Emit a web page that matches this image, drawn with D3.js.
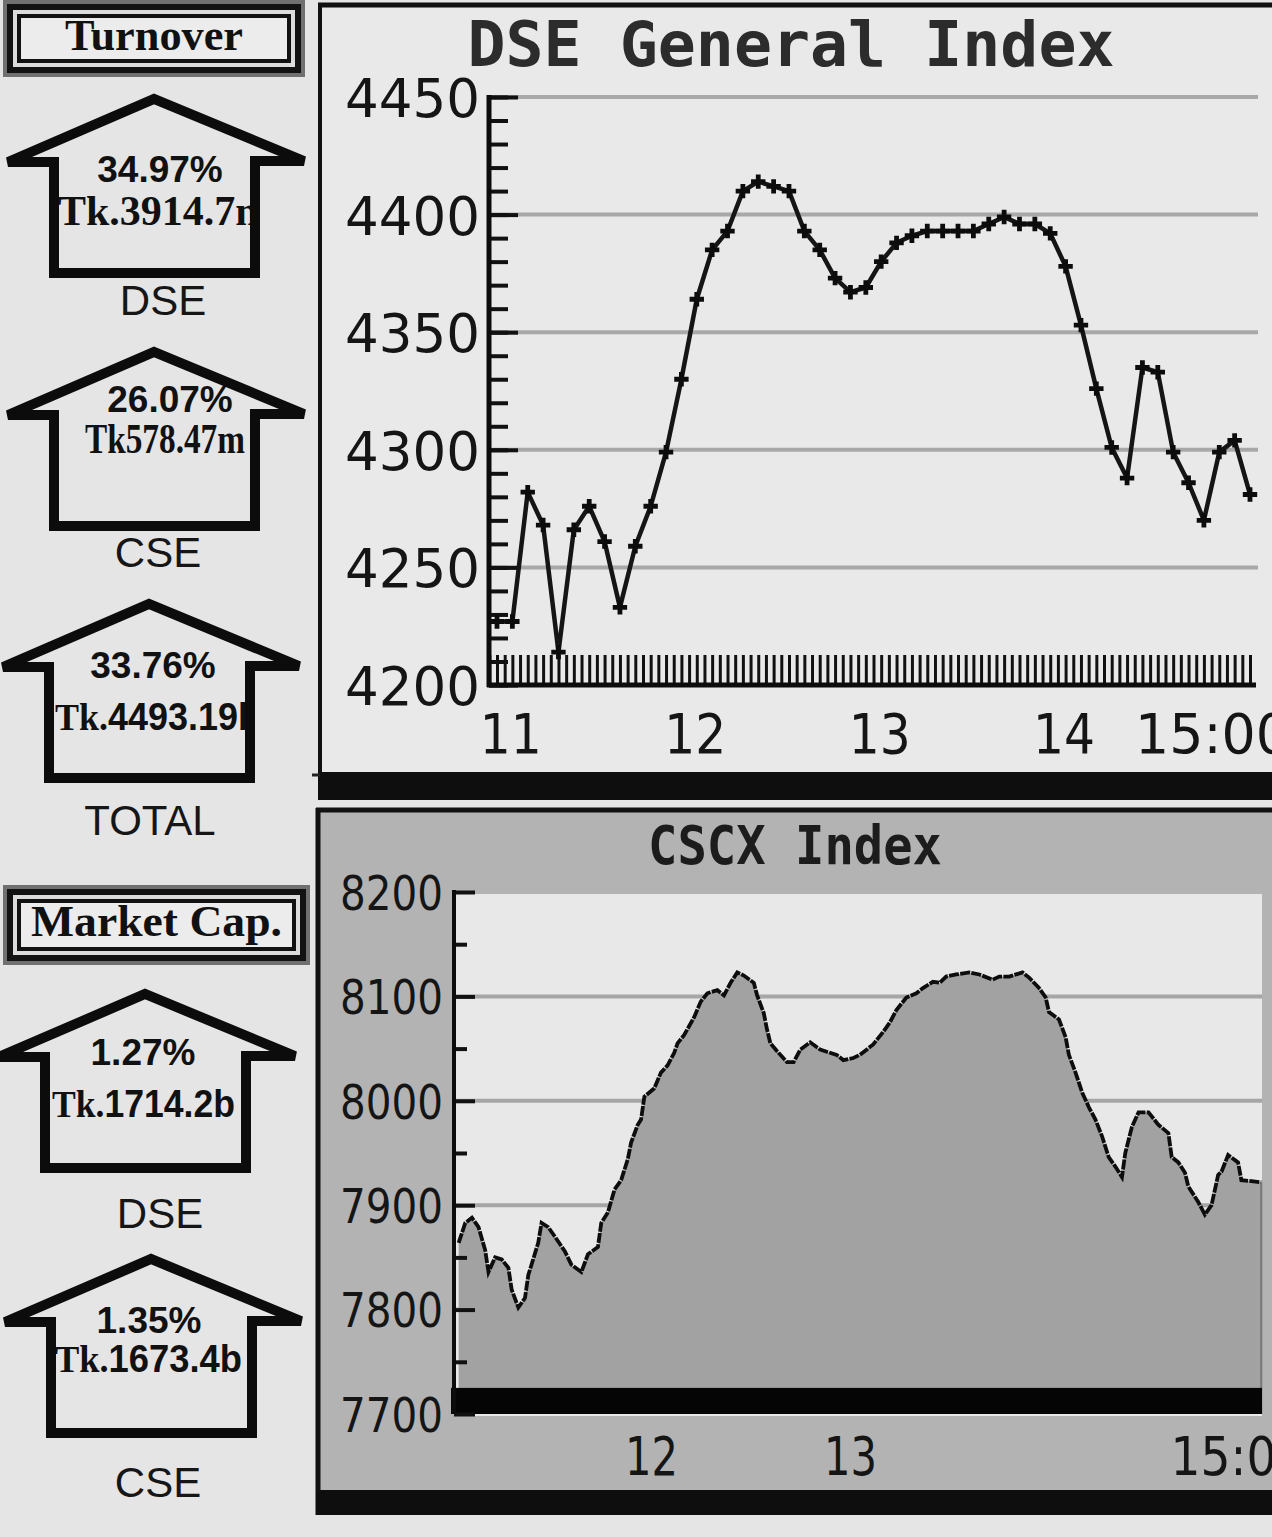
<!DOCTYPE html>
<html><head><meta charset="utf-8">
<script src="https://cdn.jsdelivr.net/npm/d3@7"></script>
<style>html,body{margin:0;padding:0;background:#e5e5e5;overflow:hidden} svg{display:block}</style>
</head><body>
<svg id="c" width="1272" height="1537"></svg>
<script>
// ---------------- DATA ----------------
const dseTimes = ["10:55","11:00","11:05","11:10","11:15","11:20","11:25","11:30","11:35","11:40","11:45","11:50","11:55",
  "12:00","12:05","12:10","12:15","12:20","12:25","12:30","12:35","12:40","12:45","12:50","12:55",
  "13:00","13:05","13:10","13:15","13:20","13:25","13:30","13:35","13:40","13:45","13:50","13:55",
  "14:00","14:05","14:10","14:15","14:20","14:25","14:30","14:35","14:40","14:45","14:50","14:55","15:00"];
const dseValues = [4227,4227,4282,4268,4214,4266,4276,4261,4233,4259,
  4276,4299,4330,4364,4385,4393,4410,4414,4412,4410,
  4393,4385,4373,4367,4369,4380,4388,4391,4393,4393,
  4393,4393,4396,4399,4396,4396,4392,4378,4353,4326,
  4301,4288,4335,4333,4299,4286,4270,4299,4304,4281];
const dseYTicks = [4200,4250,4300,4350,4400,4450];
const dseGrid = [4250,4300,4350,4400,4450];
const dseXTicks = ["11:00","12:00","13:00","14:00","15:00"];
const dseXLabels = ["11","12","13","14","15:00"];

const cscxTimes = ["11:02","11:04","11:06","11:08","11:10","11:11","11:13","11:15","11:17","11:18","11:20","11:22","11:23","11:26","11:27","11:29","11:31","11:34","11:36","11:39","11:41","11:44","11:45","11:47","11:49","11:51","11:53","11:54","11:56","11:57","11:58",
  "12:01","12:03","12:05","12:07","12:08","12:10","12:13","12:15","12:17","12:20","12:22","12:24","12:26","12:28","12:31","12:32","12:34","12:35","12:36","12:39","12:41","12:43","12:45","12:48","12:51","12:53","12:56","12:58",
  "13:01","13:03","13:05","13:07","13:10","13:12","13:14","13:17","13:20","13:22","13:25","13:27","13:29","13:32","13:36","13:39","13:43","13:45","13:48","13:52","13:54","13:57","13:59",
  "14:00","14:03","14:05","14:06","14:08","14:10","14:12","14:14","14:16","14:18","14:20","14:22","14:23","14:25","14:27","14:30","14:33","14:36","14:37","14:39","14:41","14:42","14:45","14:47","14:49","14:51","14:52","14:54","14:57","14:58",
  "15:04"];
const cscxValues = [7864,7883,7888,7879,7857,7836,7850,7848,7840,7819,7802,7811,7833,7864,7883,7879,7870,7856,7843,7836,7853,7860,7883,7893,7915,7924,7944,7960,7977,7982,8004,
  8012,8027,8034,8046,8055,8063,8080,8095,8103,8106,8101,8113,8123,8120,8113,8101,8084,8068,8055,8044,8037,8037,8049,8056,8049,8047,8044,8039,
  8041,8044,8049,8054,8066,8075,8087,8099,8103,8108,8114,8113,8119,8121,8123,8121,8116,8119,8119,8123,8118,8108,8099,
  8085,8078,8061,8044,8027,8008,7994,7982,7966,7946,7937,7927,7950,7975,7989,7989,7977,7969,7946,7941,7931,7918,7903,7891,7900,7929,7932,7948,7941,7924,
  7922];
const cscxYTicks = [7700,7800,7900,8000,8100,8200];
const cscxMinor = [7750,7850,7950,8050,8150];
const cscxGrid = [7800,7900,8000,8100];
const cscxXTicks = ["12:00","13:00","15:00"];
const cscxXLabels = ["12","13","15:00"];

const turnoverNames = ["DSE","CSE","TOTAL"];
const turnoverPct = ["34.97%","26.07%","33.76%"];
const turnoverAmt = ["Tk.3914.7m","Tk578.47m","Tk.4493.19b"];
const mcapNames = ["DSE","CSE"];
const mcapPct = ["1.27%","1.35%"];
const mcapAmt = ["Tk.1714.2b","Tk.1673.4b"];

// ---------------- DRAW ----------------
const svg = d3.select("#c");
const parse = d3.timeParse("%H:%M");
svg.append("rect").attr("width",1272).attr("height",1537).attr("fill","#e5e5e5");
const defs = svg.append("defs");

// ---- framed title boxes
function framedBox(x,y,w,h,label,baseline,fs,len){
  const g = svg.append("g");
  [[0,"#707070"],[4,"#121212"],[10,"#dcdcdc"],[14,"#121212"],[18,"#ececec"]].forEach(([i,c])=>{
    g.append("rect").attr("x",x+i).attr("y",y+i).attr("width",w-2*i).attr("height",h-2*i).attr("fill",c);
  });
  g.append("text").attr("x",x+w/2).attr("y",baseline).attr("text-anchor","middle")
    .attr("font-family","Liberation Serif").attr("font-weight","bold").attr("font-size",fs)
    .attr("textLength",len).attr("lengthAdjust","spacingAndGlyphs").attr("fill","#111").text(label);
}
framedBox(3,0,302,77,"Turnover",50,45,178);
framedBox(3,885,307,80,"Market Cap.",936,44,251);

// ---- arrows
const arrows = [
  {cx:154, top:93,  pct:turnoverPct[0], amt:turnoverAmt[0], name:turnoverNames[0], px:160, pb:182, ax:58, ab:225, al:null, mixed:false, nx:163, nb:315},
  {cx:154, top:346, pct:turnoverPct[1], amt:turnoverAmt[1], name:turnoverNames[1], px:170, pb:412, ax:85, ab:453, al:160, mixed:false, nx:158, nb:567},
  {cx:149, top:598, pct:turnoverPct[2], amt:turnoverAmt[2], name:turnoverNames[2], px:153, pb:678, ax:55, ab:730, al:205, mixed:true, nx:150, nb:835},
  {cx:145, top:988, pct:mcapPct[0], amt:mcapAmt[0], name:mcapNames[0], px:143, pb:1065, ax:52, ab:1117, al:183, mixed:true, nx:160, nb:1228},
  {cx:151, top:1253,pct:mcapPct[1], amt:mcapAmt[1], name:mcapNames[1], px:149, pb:1333, ax:55, ab:1372, al:187, mixed:true, nx:158, nb:1497}
];
arrows.forEach((a,i)=>{
  const g = svg.append("g");
  const cid = "clipA"+i;
  defs.append("clipPath").attr("id",cid).append("rect")
    .attr("x",a.cx-101).attr("y",a.top).attr("width",202).attr("height",200);
  const tg = g.append("g").attr("clip-path",`url(#${cid})`);
  tg.append("text").attr("x",a.px).attr("y",a.pb).attr("text-anchor","middle")
    .attr("font-family","Liberation Sans").attr("font-weight","bold").attr("font-size",37)
    .attr("fill","#111").text(a.pct);
  const t = tg.append("text").attr("x",a.ax).attr("y",a.ab).attr("font-weight","bold").attr("fill","#111");
  if(a.mixed){
    t.attr("font-size",38);
    t.append("tspan").attr("font-family","Liberation Serif").text(a.amt.slice(0,3));
    t.append("tspan").attr("font-family","Liberation Sans").text(a.amt.slice(3));
  } else {
    t.attr("font-family","Liberation Serif").attr("font-size",42).text(a.amt);
  }
  if(a.al) t.attr("textLength",a.al).attr("lengthAdjust","spacingAndGlyphs");
  const c=a.cx, y=a.top;
  const pts = [[c-146,y+69],[c,y+6],[c+150,y+68],[c+101,y+68],[c+101,y+180],[c-100,y+180],[c-100,y+69]];
  g.append("path").attr("d", d3.line()(pts)+"Z").attr("fill","none").attr("stroke","#0c0c0c")
    .attr("stroke-width",10).attr("stroke-linejoin","miter");
  g.append("text").attr("x",a.nx).attr("y",a.nb).attr("text-anchor","middle")
    .attr("font-family","Liberation Sans").attr("font-size",42).attr("fill","#161616").text(a.name);
});

// ---------------- DSE panel ----------------
const xD = d3.scaleTime().domain([parse("10:55"),parse("15:00")]).range([497,1250]);
const yD = d3.scaleLinear().domain([4200,4450]).range([685,97]);
const gD = svg.append("g");
gD.append("rect").attr("x",320).attr("y",6).attr("width",952).attr("height",768).attr("fill","#e9e9e9");
gD.append("line").attr("x1",318).attr("x2",1272).attr("y1",5).attr("y2",5).attr("stroke","#111").attr("stroke-width",5);
gD.append("line").attr("x1",320).attr("x2",320).attr("y1",3).attr("y2",800).attr("stroke","#111").attr("stroke-width",4);
gD.append("rect").attr("x",318).attr("y",772).attr("width",954).attr("height",28).attr("fill","#0e0e0e");
gD.append("line").attr("x1",312).attr("x2",320).attr("y1",775).attr("y2",775).attr("stroke","#222").attr("stroke-width",3);

gD.append("text").attr("x",791).attr("y",66).attr("text-anchor","middle")
  .attr("font-family","DejaVu Sans Mono").attr("font-weight","bold").attr("font-size",63)
  .attr("textLength",647).attr("lengthAdjust","spacingAndGlyphs").attr("fill","#2c2c2c").text("DSE General Index");

// gridlines
gD.append("g").selectAll("line").data(dseGrid).join("line")
  .attr("x1",489).attr("x2",1258).attr("y1",d=>yD(d)).attr("y2",d=>yD(d))
  .attr("stroke","#a8a8a8").attr("stroke-width",4);

// y ticks (minor + major) inside
const yMinor = gD.append("g").attr("transform","translate(489,0)")
  .call(d3.axisRight(yD).tickValues(d3.range(4200,4451,10)).tickSize(19).tickFormat(""));
const yMajor = gD.append("g").attr("transform","translate(489,0)")
  .call(d3.axisRight(yD).tickValues(dseYTicks).tickSize(29).tickFormat(""));
[yMinor,yMajor].forEach(g=>{g.select(".domain").remove(); g.selectAll(".tick line").attr("stroke","#111").attr("stroke-width",4);});
// y labels
const yLab = gD.append("g").attr("transform","translate(489,0)")
  .call(d3.axisLeft(yD).tickValues(dseYTicks).tickSize(0).tickPadding(9).tickFormat(d3.format("d")));
yLab.select(".domain").remove();
yLab.selectAll("text").attr("font-family","DejaVu Sans").attr("font-size",54).attr("fill","#151515")
  .attr("dy","0.36em").attr("textLength",135).attr("lengthAdjust","spacingAndGlyphs");

// x comb ticks
const comb = d3.range(-1,99).map(i=>new Date(+parse("10:55")+i*150000));
const xComb = gD.append("g").attr("transform","translate(0,685)")
  .call(d3.axisTop(xD).tickValues(comb).tickSize(30).tickFormat(""));
xComb.select(".domain").remove();
xComb.selectAll(".tick line").attr("stroke","#111").attr("stroke-width",3);
// x labels
const xLab = gD.append("g").attr("transform","translate(0,685)")
  .call(d3.axisBottom(xD).tickValues(dseXTicks.map(parse)).tickSize(0).tickPadding(29)
    .tickFormat((d,i)=>dseXLabels[i]));
xLab.select(".domain").remove();
xLab.selectAll("text").attr("font-family","DejaVu Sans").attr("font-size",55).attr("fill","#151515")
  .attr("textLength",(d,i)=>dseXLabels[i].length>2?155:62).attr("lengthAdjust","spacingAndGlyphs")
  .attr("dx",(d,i)=>dseXLabels[i].length>2?-38:-2);
// spines
gD.append("line").attr("x1",489).attr("x2",489).attr("y1",yD(4450)-2).attr("y2",yD(4200)+2).attr("stroke","#0c0c0c").attr("stroke-width",5);
gD.append("line").attr("x1",487).attr("x2",1256).attr("y1",yD(4200)).attr("y2",yD(4200)).attr("stroke","#0c0c0c").attr("stroke-width",5);

// line + markers
const dseData = dseTimes.map((t,i)=>({t:parse(t),v:dseValues[i]}));
gD.append("path").datum(dseData).attr("fill","none").attr("stroke","#151515").attr("stroke-width",4.5)
  .attr("stroke-linejoin","round")
  .attr("d",d3.line().x(d=>xD(d.t)).y(d=>yD(d.v)));
gD.append("g").selectAll("path").data(dseData).join("path")
  .attr("transform",d=>`translate(${xD(d.t)},${yD(d.v)})`)
  .attr("d",d3.symbol(d3.symbolCross,115)).attr("fill","#0c0c0c");

// ---------------- CSCX panel ----------------
const xC = d3.scaleTime().domain([parse("11:00"),parse("15:00")]).range([452,1248]);
const yC = d3.scaleLinear().domain([7700,8200]).range([1414,892]);
const gC = svg.append("g");
gC.append("rect").attr("x",318).attr("y",808).attr("width",954).attr("height",707).attr("fill","#b3b3b3");
gC.append("line").attr("x1",316).attr("x2",1272).attr("y1",810).attr("y2",810).attr("stroke","#111").attr("stroke-width",5);
gC.append("line").attr("x1",318).attr("x2",318).attr("y1",808).attr("y2",1515).attr("stroke","#111").attr("stroke-width",5);
gC.append("rect").attr("x",316).attr("y",1490).attr("width",956).attr("height",25).attr("fill","#0e0e0e");

gC.append("text").attr("x",795).attr("y",864).attr("text-anchor","middle")
  .attr("font-family","DejaVu Sans Mono").attr("font-weight","bold").attr("font-size",54)
  .attr("textLength",294).attr("lengthAdjust","spacingAndGlyphs").attr("fill","#1c1c1c").text("CSCX Index");

// plot background
gC.append("rect").attr("x",455).attr("y",yC(8200)+2).attr("width",1262-455).attr("height",yC(7700)-yC(8200)).attr("fill","#e8e8e8");
gC.append("g").selectAll("line").data(cscxGrid).join("line")
  .attr("x1",455).attr("x2",1262).attr("y1",d=>yC(d)).attr("y2",d=>yC(d))
  .attr("stroke","#a6a6a6").attr("stroke-width",4);

const cData = cscxTimes.map((t,i)=>({t:parse(t),v:cscxValues[i]}));
gC.append("path").datum(cData).attr("fill","#a2a2a2")
  .attr("d",d3.area().x(d=>xC(d.t)).y0(yC(7700)).y1(d=>yC(d.v)));
gC.append("path").datum(cData).attr("fill","none").attr("stroke","#0d0d0d").attr("stroke-width",3.8)
  .attr("stroke-linejoin","miter").attr("stroke-dasharray","10 1.3")
  .attr("d",d3.line().x(d=>xC(d.t)).y(d=>yC(d.v)));
// right edge of area
const last = cData[cData.length-1];
gC.append("line").attr("x1",xC(last.t)).attr("x2",xC(last.t)).attr("y1",yC(last.v)).attr("y2",yC(7700))
  .attr("stroke","#777").attr("stroke-width",2);
// black base bar
gC.append("rect").attr("x",451).attr("y",yC(7725)).attr("width",1262-451).attr("height",yC(7700)-yC(7725)).attr("fill","#050505");

// y ticks
const cMin = gC.append("g").attr("transform","translate(454,0)")
  .call(d3.axisRight(yC).tickValues(cscxMinor).tickSize(13).tickFormat(""));
const cMaj = gC.append("g").attr("transform","translate(454,0)")
  .call(d3.axisRight(yC).tickValues(cscxYTicks).tickSize(21).tickFormat(""));
[cMin,cMaj].forEach(g=>{g.select(".domain").remove(); g.selectAll(".tick line").attr("stroke","#111").attr("stroke-width",4);});
gC.append("line").attr("x1",454).attr("x2",454).attr("y1",yC(8200)-2).attr("y2",yC(7700)).attr("stroke","#0c0c0c").attr("stroke-width",4);
const cYLab = gC.append("g").attr("transform","translate(454,0)")
  .call(d3.axisLeft(yC).tickValues(cscxYTicks).tickSize(0).tickPadding(11).tickFormat(d3.format("d")));
cYLab.select(".domain").remove();
cYLab.selectAll("text").attr("font-family","DejaVu Sans").attr("font-size",48).attr("fill","#151515")
  .attr("dy","0.36em").attr("textLength",103).attr("lengthAdjust","spacingAndGlyphs");
const cXLab = gC.append("g").attr("transform",`translate(0,${yC(7700)})`)
  .call(d3.axisBottom(xC).tickValues(cscxXTicks.map(parse)).tickSize(0).tickPadding(23)
    .tickFormat((d,i)=>cscxXLabels[i]));
cXLab.select(".domain").remove();
cXLab.selectAll("text").attr("font-family","DejaVu Sans").attr("font-size",54).attr("fill","#151515")
  .attr("textLength",(d,i)=>cscxXLabels[i].length>2?136:53).attr("lengthAdjust","spacingAndGlyphs")
  .attr("dx",(d,i)=>cscxXLabels[i].length>2?-10:0);
</script>
</body></html>
